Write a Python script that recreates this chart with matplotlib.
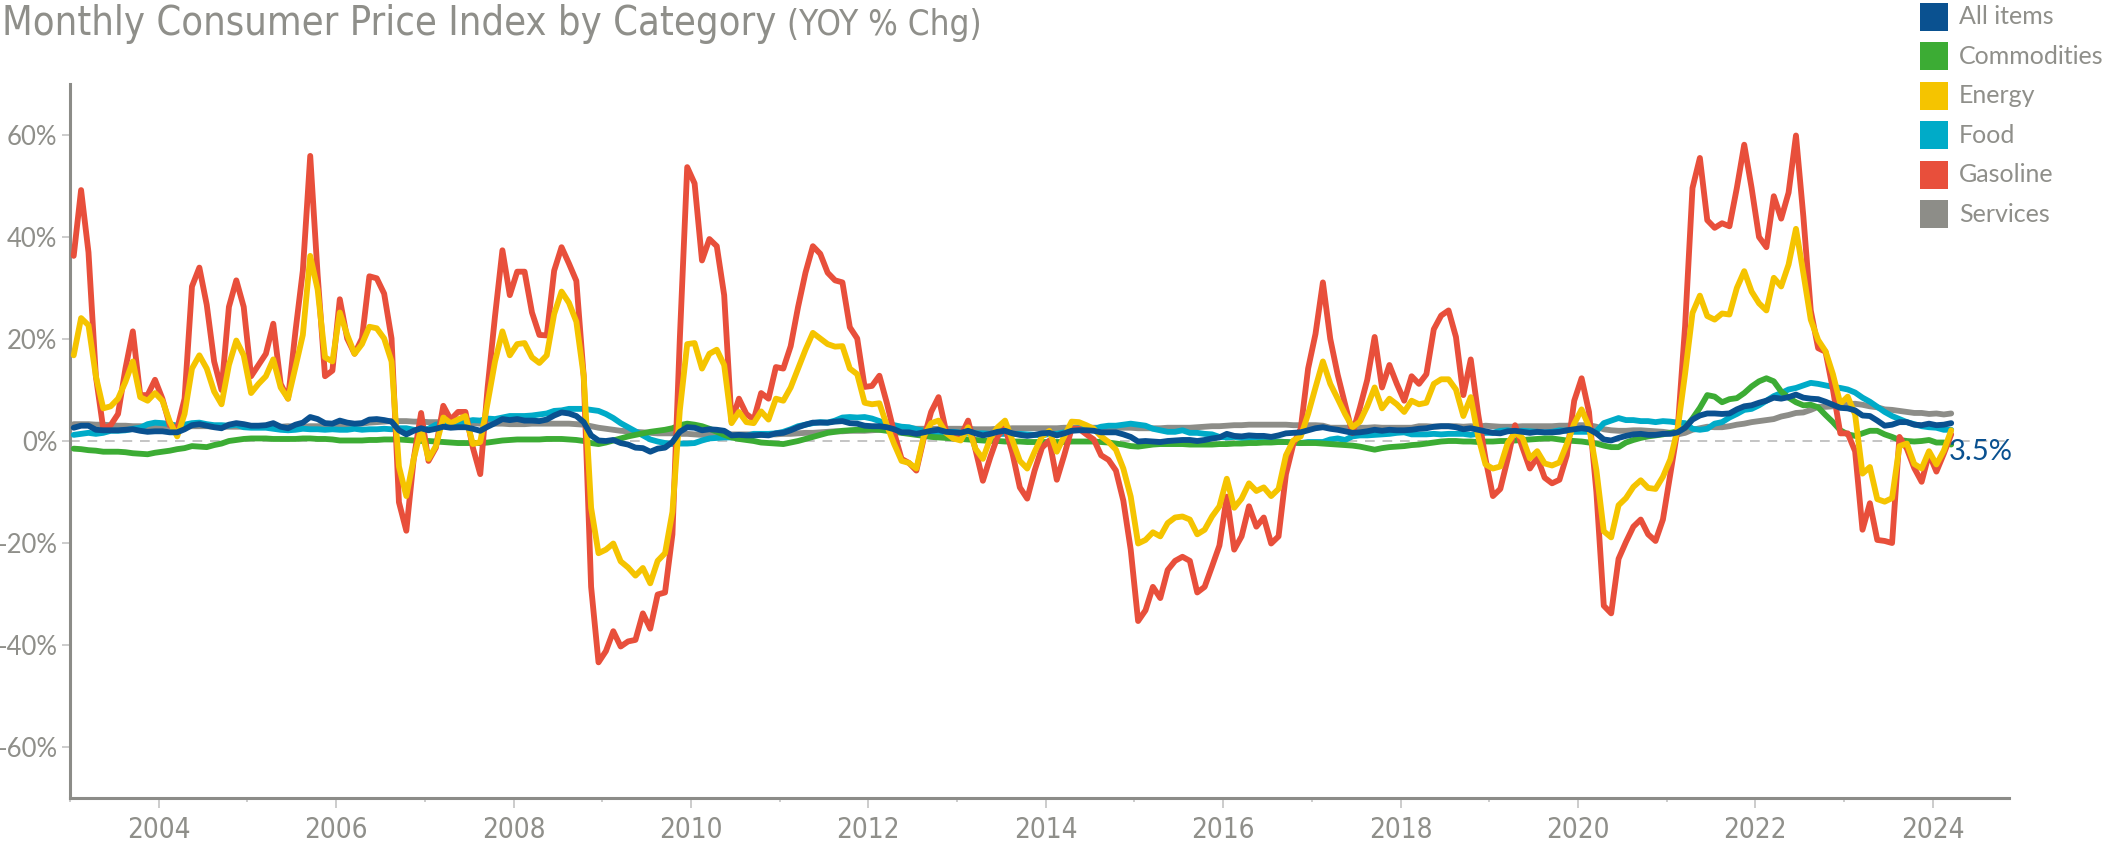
import matplotlib
matplotlib.use("Agg")
import matplotlib.pyplot as plt
import numpy as np
from matplotlib.patches import Rectangle

# ---------------- data (YoY % change, monthly, Jan 2003 .. Mar 2024) ----------------
start_year = 2003

all_items = [
    2.6, 3.0, 3.0, 2.2, 2.1, 2.1, 2.1, 2.2, 2.3, 2.0, 1.8, 1.9,
    1.9, 1.7, 1.7, 2.3, 3.1, 3.3, 3.0, 2.7, 2.5, 3.2, 3.5, 3.3,
    3.0, 3.0, 3.1, 3.5, 2.8, 2.5, 3.2, 3.6, 4.7, 4.3, 3.5, 3.4,
    4.0, 3.6, 3.4, 3.5, 4.2, 4.3, 4.1, 3.8, 2.1, 1.3, 2.0, 2.5,
    2.1, 2.4, 2.8, 2.6, 2.7, 2.7, 2.4, 2.0, 2.8, 3.5, 4.3, 4.1,
    4.3, 4.0, 4.0, 3.9, 4.2, 5.0, 5.6, 5.4, 4.9, 3.7, 1.1, 0.1,
    0.0, 0.2, -0.4, -0.7, -1.3, -1.4, -2.1, -1.5, -1.3, -0.2, 1.8, 2.7,
    2.6, 2.1, 2.3, 2.2, 2.0, 1.1, 1.2, 1.1, 1.1, 1.2, 1.1, 1.5,
    1.6, 2.1, 2.7, 3.2, 3.6, 3.6, 3.6, 3.8, 3.9, 3.5, 3.4, 3.0,
    2.9, 2.9, 2.7, 2.3, 1.7, 1.7, 1.4, 1.7, 2.0, 2.2, 1.8, 1.7,
    1.6, 2.0, 1.5, 1.1, 1.4, 1.8, 2.0, 1.5, 1.2, 1.0, 1.2, 1.5,
    1.6, 1.1, 1.5, 2.0, 2.1, 2.1, 2.0, 1.7, 1.7, 1.7, 1.3, 0.8,
    -0.1, 0.0, -0.1, -0.2, 0.0, 0.1, 0.2, 0.2, 0.0, 0.2, 0.5, 0.7,
    1.4, 1.0, 0.9, 1.1, 1.0, 1.0, 0.8, 1.1, 1.5, 1.6, 1.7, 2.1,
    2.5, 2.7, 2.4, 2.2, 1.9, 1.6, 1.7, 1.9, 2.2, 2.0, 2.2, 2.1,
    2.1, 2.2, 2.4, 2.5, 2.8, 2.9, 2.9, 2.7, 2.3, 2.5, 2.2, 1.9,
    1.6, 1.5, 1.9, 2.0, 1.8, 1.6, 1.8, 1.7, 1.7, 1.8, 2.1, 2.3,
    2.5, 2.3, 1.5, 0.3, 0.1, 0.6, 1.0, 1.3, 1.4, 1.2, 1.2, 1.4,
    1.4, 1.7, 2.6, 4.2, 5.0, 5.4, 5.4, 5.3, 5.4, 6.2, 6.8, 7.0,
    7.5, 7.9, 8.5, 8.3, 8.6, 9.1, 8.5, 8.3, 8.2, 7.7, 7.1, 6.5,
    6.4, 6.0, 5.0, 4.9, 4.0, 3.0, 3.2, 3.7, 3.7, 3.2, 3.1, 3.4,
    3.1, 3.2, 3.5,
]

commodities = [
    -1.5, -1.6, -1.8, -1.9, -2.1, -2.1, -2.1, -2.2, -2.4, -2.5, -2.6, -2.3,
    -2.1, -1.9, -1.6, -1.4, -1.0, -1.1, -1.2, -0.8, -0.5, 0.0, 0.2, 0.4,
    0.5, 0.5, 0.5, 0.4, 0.4, 0.4, 0.4, 0.5, 0.5, 0.4, 0.4, 0.3,
    0.1, 0.1, 0.1, 0.1, 0.2, 0.2, 0.3, 0.3, 0.3, 0.2, 0.1, 0.0,
    0.0, -0.1, -0.2, -0.3, -0.4, -0.4, -0.4, -0.4, -0.3, -0.1, 0.1, 0.2,
    0.3, 0.3, 0.3, 0.3, 0.4, 0.4, 0.4, 0.3, 0.2, 0.0, -0.4, -0.6,
    -0.3, 0.1, 0.5, 0.9, 1.2, 1.5, 1.8, 2.0, 2.2, 2.5, 3.1, 3.4,
    3.2, 2.9, 2.4, 1.8, 1.2, 0.7, 0.4, 0.2, 0.0, -0.3, -0.4, -0.5,
    -0.6, -0.3, 0.0, 0.4, 0.8, 1.2, 1.6, 1.8, 2.0, 2.1, 2.2, 2.2,
    2.3, 2.2, 2.0, 1.8, 1.6, 1.4, 1.2, 1.0, 0.8, 0.7, 0.6, 0.5,
    0.4, 0.3, 0.2, 0.1, 0.0, 0.0, -0.1, -0.1, -0.1, -0.2, -0.2, -0.2,
    -0.2, -0.2, -0.2, -0.1, -0.1, -0.1, -0.1, -0.2, -0.3, -0.5, -0.7, -1.0,
    -1.1, -0.9, -0.7, -0.6, -0.6, -0.6, -0.6, -0.7, -0.7, -0.7, -0.7, -0.6,
    -0.6, -0.5, -0.5, -0.4, -0.4, -0.3, -0.3, -0.2, -0.2, -0.3, -0.4, -0.4,
    -0.4, -0.5, -0.6, -0.7, -0.8, -0.9, -1.1, -1.4, -1.7, -1.4, -1.2, -1.1,
    -1.0, -0.8, -0.7, -0.5, -0.3, -0.1, 0.0, 0.0, -0.1, -0.1, -0.2, -0.1,
    -0.1, 0.0, 0.0, 0.1, 0.2, 0.3, 0.4, 0.5, 0.5, 0.3, 0.1, 0.0,
    -0.1, -0.3, -0.5, -0.9, -1.2, -1.2, -0.3, 0.2, 0.6, 0.9, 1.1, 1.3,
    1.6, 1.9, 2.6, 4.4, 6.5, 9.0, 8.7, 7.6, 8.2, 8.4, 9.4, 10.7,
    11.7, 12.3, 11.7, 9.7, 8.5, 7.6, 7.0, 7.1, 6.6, 5.1, 3.7, 2.1,
    1.3, 1.0, 1.5, 2.0, 2.0, 1.3, 0.8, 0.2, 0.0, -0.1, 0.0, 0.2,
    -0.3, -0.3, -0.7,
]

energy = [
    16.8, 24.1, 22.7, 12.7, 6.4, 6.8, 8.3, 11.6, 15.6, 8.6, 7.9, 9.4,
    7.9, 3.8, 0.9, 5.3, 14.2, 16.8, 14.2, 9.7, 7.2, 14.9, 19.7, 16.8,
    9.4, 11.2, 12.7, 16.0, 10.5, 8.3, 14.5, 20.8, 36.3, 29.7, 16.4, 15.6,
    25.2, 20.8, 17.1, 19.0, 22.4, 22.1, 20.1, 15.6, -5.0, -10.8, -3.5, 2.4,
    -3.5, -1.0, 4.6, 3.5, 4.2, 4.9, -0.6, -0.2, 7.5, 15.6, 21.5, 16.8,
    19.0, 19.2, 16.4, 15.3, 16.8, 24.9, 29.3, 27.1, 23.4, 12.7, -13.1, -22.0,
    -21.3, -20.1, -23.6, -24.8, -26.4, -24.9, -27.9, -23.5, -22.0, -13.9, 6.0, 19.0,
    19.2, 14.2, 17.1, 17.9, 14.9, 3.5, 5.7, 3.7, 3.5, 5.8, 4.2, 8.3,
    7.9, 10.5, 14.2, 17.9, 21.2, 20.1, 19.0, 18.5, 18.6, 14.2, 13.1, 7.5,
    7.2, 7.4, 3.1, -0.6, -3.9, -4.3, -5.4, 0.9, 3.5, 4.0, 1.6, 0.5,
    0.1, 2.7, -1.5, -3.5, 0.5, 2.7, 4.0, 0.1, -3.9, -5.4, -2.1, 0.9,
    2.0, -2.1, 0.9, 3.8, 3.7, 3.1, 2.4, 0.9, -0.2, -1.7, -5.4, -10.9,
    -20.1, -19.4, -17.9, -18.7, -16.1, -15.0, -14.8, -15.4, -18.3, -17.4, -14.8, -12.8,
    -7.4, -13.1, -11.3, -8.3, -9.8, -9.1, -10.8, -9.4, -2.8, 0.1, 0.9, 5.3,
    10.5, 15.6, 11.2, 8.3, 5.3, 2.7, 3.8, 6.8, 10.5, 6.4, 8.3, 7.2,
    5.7, 7.9, 7.2, 7.5, 11.2, 12.1, 12.1, 10.1, 4.9, 8.6, 0.9, -4.6,
    -5.4, -5.0, -0.4, 1.7, 0.6, -3.4, -2.0, -4.4, -4.8, -4.2, -0.6, 3.4,
    6.2, 2.8, -5.7, -17.7, -18.9, -12.6, -11.2, -9.0, -7.7, -9.2, -9.4, -7.0,
    -3.6, 2.4, 13.2, 25.1, 28.5, 24.5, 23.8, 25.0, 24.8, 30.0, 33.3, 29.3,
    27.0, 25.6, 32.0, 30.3, 34.6, 41.6, 32.9, 23.8, 19.8, 17.6, 13.1, 7.3,
    8.7, 5.2, -6.4, -5.1, -11.4, -11.9, -11.2, -1.0, -0.5, -4.5, -5.4, -2.0,
    -4.6, -1.9, 2.1,
]

food = [
    1.2, 1.4, 1.6, 1.4, 1.6, 2.0, 2.0, 2.1, 2.4, 2.6, 3.3, 3.6,
    3.5, 3.3, 3.0, 3.2, 3.5, 3.6, 3.3, 3.1, 3.1, 3.0, 3.2, 2.7,
    2.6, 2.6, 2.6, 2.4, 2.2, 2.1, 2.2, 2.4, 2.3, 2.3, 2.2, 2.3,
    2.2, 2.2, 2.4, 2.2, 2.3, 2.3, 2.4, 2.3, 2.5, 2.5, 2.2, 2.1,
    2.4, 3.2, 3.5, 3.6, 3.6, 3.8, 4.1, 4.0, 4.4, 4.3, 4.6, 4.9,
    4.9, 4.9, 5.0, 5.2, 5.4, 5.9, 6.0, 6.3, 6.3, 6.3, 6.1, 5.9,
    5.3, 4.5, 3.5, 2.7, 1.9, 1.1, 0.3, -0.1, -0.4, -0.6, -0.5, -0.5,
    -0.4, 0.1, 0.5, 0.6, 0.7, 0.7, 0.9, 1.0, 1.4, 1.4, 1.4, 1.5,
    1.8, 2.3, 2.9, 3.2, 3.5, 3.7, 3.6, 4.0, 4.6, 4.7, 4.6, 4.7,
    4.4, 3.9, 3.3, 3.1, 2.8, 2.7, 2.3, 2.0, 1.6, 1.7, 1.8, 1.8,
    1.6, 1.6, 1.5, 1.5, 1.4, 1.4, 1.4, 1.4, 1.4, 1.3, 1.2, 1.1,
    1.4, 1.4, 1.7, 2.3, 2.5, 2.5, 2.3, 2.8, 3.0, 3.0, 3.2, 3.4,
    3.2, 3.0, 2.4, 2.1, 1.8, 1.8, 2.1, 1.6, 1.6, 1.4, 1.3, 0.8,
    0.7, 0.8, 0.6, 0.6, 0.7, 0.3, 0.0, -0.1, -0.2, -0.3, -0.4, -0.2,
    -0.2, -0.2, 0.3, 0.5, 0.2, 0.9, 1.1, 1.1, 1.2, 1.3, 1.4, 1.6,
    1.7, 1.3, 1.3, 1.3, 1.4, 1.3, 1.4, 1.4, 1.4, 1.2, 1.4, 1.6,
    1.6, 2.0, 2.1, 1.8, 2.0, 1.9, 1.8, 1.7, 1.8, 2.1, 2.0, 1.8,
    1.8, 1.8, 1.9, 3.5, 4.0, 4.5, 4.1, 4.1, 3.9, 3.9, 3.7, 3.9,
    3.8, 3.6, 3.5, 2.4, 2.2, 2.4, 3.4, 3.7, 4.6, 5.3, 6.1, 6.3,
    7.0, 7.9, 8.8, 9.4, 10.1, 10.4, 10.9, 11.4, 11.2, 10.9, 10.6, 10.4,
    10.1, 9.5, 8.5, 7.7, 6.7, 5.7, 4.9, 4.3, 3.7, 3.3, 2.9, 2.7,
    2.6, 2.2, 2.2,
]

gasoline = [
    36.3, 49.2, 37.0, 12.7, 2.4, 3.1, 5.3, 14.2, 21.5, 9.0, 9.0, 12.0,
    8.3, 3.1, 2.4, 8.3, 30.3, 34.0, 26.7, 15.6, 10.0, 26.3, 31.5, 26.3,
    12.7, 14.9, 17.1, 23.0, 11.2, 8.3, 21.5, 33.4, 55.9, 32.6, 12.7, 13.8,
    27.8, 20.1, 17.1, 20.1, 32.3, 31.9, 28.9, 20.1, -12.0, -17.6, -3.5, 5.5,
    -3.9, -1.3, 6.9, 4.2, 5.7, 5.7, -1.3, -6.5, 10.5, 24.5, 37.4, 28.6,
    33.2, 33.2, 25.2, 20.8, 20.7, 33.4, 38.0, 34.8, 31.4, 12.7, -28.6, -43.4,
    -41.2, -37.3, -40.3, -39.3, -39.0, -33.8, -36.8, -30.1, -29.7, -18.3, 20.0, 53.7,
    50.5, 35.4, 39.6, 38.2, 28.6, 3.8, 8.3, 5.3, 4.2, 9.4, 8.3, 14.5,
    14.2, 18.6, 26.3, 33.0, 38.2, 36.7, 33.0, 31.5, 31.1, 22.3, 20.1, 10.6,
    10.8, 12.8, 7.5, 1.6, -3.5, -4.3, -5.8, 0.5, 5.7, 8.6, 2.0, 0.5,
    0.9, 4.0, -1.7, -7.8, -3.2, 0.9, 2.7, -2.4, -9.1, -11.3, -5.8, -1.3,
    0.1, -7.6, -2.8, 2.4, 2.4, 1.3, 0.3, -2.8, -3.7, -5.8, -11.7, -21.3,
    -35.3, -33.2, -28.6, -30.8, -25.3, -23.5, -22.7, -23.5, -29.7, -28.6, -24.6, -20.5,
    -10.9, -21.3, -18.7, -12.8, -16.8, -15.0, -20.1, -18.7, -6.5, -0.6, 2.4, 14.2,
    21.0, 31.1, 20.0, 13.0, 7.2, 1.5, 6.5, 12.0, 20.4, 10.5, 14.9, 11.2,
    7.9, 12.7, 11.2, 13.1, 21.9, 24.6, 25.6, 20.4, 9.0, 16.0, 5.3, -3.5,
    -10.8, -9.4, -3.5, 3.1, -1.3, -5.4, -3.2, -7.2, -8.3, -7.6, -2.8, 7.9,
    12.3, 5.7, -10.0, -32.3, -33.8, -23.1, -19.8, -16.8, -15.4, -18.3, -19.6, -15.4,
    -6.5, 2.4, 22.5, 49.6, 55.5, 43.3, 41.8, 42.7, 42.1, 49.6, 58.1, 49.6,
    40.0, 38.0, 48.0, 43.6, 48.7, 59.9, 44.0, 25.6, 18.2, 17.5, 10.1, 1.5,
    1.5, -2.0, -17.4, -12.2, -19.4, -19.6, -20.0, 0.8, -1.5, -5.3, -8.0, -2.5,
    -6.0, -2.5, 1.3,
]

services = [
    3.3, 3.3, 3.3, 3.2, 3.2, 3.1, 3.0, 3.0, 2.9, 2.9, 2.8, 2.8,
    2.8, 2.8, 2.8, 2.8, 2.9, 2.9, 2.9, 2.8, 2.8, 2.8, 2.8, 2.8,
    2.8, 2.8, 2.9, 2.8, 2.8, 2.9, 2.8, 2.8, 2.9, 2.9, 2.9, 3.0,
    3.1, 3.2, 3.3, 3.4, 3.6, 3.7, 3.8, 3.9, 3.9, 3.9, 3.8, 3.8,
    3.7, 3.7, 3.7, 3.7, 3.6, 3.6, 3.5, 3.4, 3.4, 3.4, 3.4, 3.3,
    3.3, 3.3, 3.4, 3.4, 3.4, 3.4, 3.4, 3.4, 3.3, 3.2, 2.9, 2.6,
    2.4, 2.2, 2.0, 1.9, 1.8, 1.7, 1.6, 1.5, 1.5, 1.5, 1.4, 1.4,
    1.3, 1.2, 1.2, 1.2, 1.2, 1.3, 1.3, 1.3, 1.3, 1.2, 1.3, 1.3,
    1.4, 1.4, 1.5, 1.6, 1.6, 1.7, 1.8, 1.9, 1.9, 2.0, 2.0, 2.0,
    2.1, 2.2, 2.3, 2.4, 2.4, 2.5, 2.4, 2.4, 2.4, 2.4, 2.4, 2.4,
    2.4, 2.4, 2.3, 2.3, 2.3, 2.4, 2.4, 2.5, 2.5, 2.5, 2.5, 2.5,
    2.5, 2.5, 2.6, 2.6, 2.7, 2.6, 2.6, 2.6, 2.6, 2.6, 2.6, 2.6,
    2.5, 2.5, 2.5, 2.5, 2.6, 2.6, 2.6, 2.6, 2.7, 2.8, 2.9, 2.9,
    3.0, 3.1, 3.1, 3.2, 3.2, 3.2, 3.2, 3.2, 3.2, 3.1, 3.1, 3.1,
    3.1, 3.0, 2.6, 2.6, 2.6, 2.6, 2.6, 2.6, 2.7, 2.6, 2.6, 2.6,
    2.6, 2.6, 2.9, 2.9, 2.8, 2.9, 2.9, 2.9, 2.8, 2.9, 2.8, 3.0,
    2.9, 2.8, 2.8, 2.8, 2.9, 2.9, 2.9, 2.9, 2.9, 3.0, 3.0, 3.1,
    3.1, 3.1, 2.8, 2.3, 2.1, 2.0, 2.0, 2.1, 2.1, 2.0, 1.9, 1.8,
    1.6, 1.3, 1.6, 2.2, 2.5, 2.8, 2.7, 2.7, 2.9, 3.2, 3.4, 3.7,
    3.9, 4.1, 4.3, 4.8, 5.1, 5.5, 5.6, 6.1, 6.7, 6.7, 6.8, 7.0,
    7.2, 7.3, 7.1, 6.8, 6.6, 6.2, 6.1, 5.9, 5.7, 5.5, 5.5, 5.3,
    5.4, 5.2, 5.4,
]

series_names = ["All items", "Commodities", "Energy", "Food", "Gasoline", "Services"]
series_values = [all_items, commodities, energy, food, gasoline, services]
series_colors = ["#0a5190", "#3cac34", "#f5c400", "#00abc8", "#e84f3b", "#8d8d88"]
draw_order = ["Services", "Food", "Commodities", "Gasoline", "Energy", "All items"]

y_ticks = [-60, -40, -20, 0, 20, 40, 60]
x_major_ticks = list(range(2004, 2025, 2))
x_minor_ticks = list(range(2003, 2025, 2))

title_main = "Monthly Consumer Price Index by Category"
title_sub = "(YOY % Chg)"

# ---------------- styling ----------------
W, H = 2118, 846
GREY_TXT = "#8f8f8a"
NARROW = ["Liberation Sans Narrow", "DejaVu Sans"]
WIDE = ["Lato", "DejaVu Sans"]

plt.rcParams["axes.unicode_minus"] = False

fig = plt.figure(figsize=(W / 100, H / 100), dpi=100)
ax = fig.add_axes([70 / W, 1 - 798 / H, (2009 - 70) / W, (798 - 84) / H])

n = len(all_items)
x = start_year + (np.arange(n) + 0.5) / 12.0

ax.axhline(0, color="#c4c4c4", lw=1.4, ls=(0, (5, 4)), zorder=1)

lookup = dict(zip(series_names, zip(series_values, series_colors)))
for k, name in enumerate(draw_order):
    vals, col = lookup[name]
    ax.plot(x, vals, color=col, lw=4.2, solid_joinstyle="round",
            solid_capstyle="round", zorder=2 + k)

ax.set_xlim(2003.0, 2024.86)
ax.set_ylim(-70, 70)

for s in ["top", "right"]:
    ax.spines[s].set_visible(False)
for s in ["left", "bottom"]:
    ax.spines[s].set_color("#8c8c88")
    ax.spines[s].set_linewidth(2.2)

ax.set_yticks(y_ticks)
ax.set_yticklabels([f"{v}%" for v in y_ticks])
ax.set_xticks(x_major_ticks)
ax.set_xticklabels([str(v) for v in x_major_ticks])
ax.set_xticks(x_minor_ticks, minor=True)

ax.tick_params(axis="y", length=6, width=1.3, color="#c8c8c8", pad=3,
               labelsize=18.5, labelcolor=GREY_TXT)
ax.tick_params(axis="x", which="major", length=7, width=1.3, color="#c8c8c8",
               pad=6, labelsize=20, labelcolor=GREY_TXT)
ax.tick_params(axis="x", which="minor", length=3, width=1.3, color="#c8c8c8")
for lab in ax.get_yticklabels():
    lab.set_family(WIDE)
for lab in ax.get_xticklabels():
    lab.set_family(NARROW)
    lab.set_fontstretch("condensed")

# end label for All items
ax.annotate(f"{all_items[-1]:.1f}%", xy=(x[-1], all_items[-1]),
            xytext=(-2, -29), textcoords="offset pixels",
            ha="left", va="center", color=series_colors[0],
            fontsize=21, family=WIDE, zorder=10)

# title
t1 = fig.text(2 / W, 1 - 35 / H, title_main, fontsize=28.5, color=GREY_TXT,
              family=NARROW, fontstretch="condensed", va="baseline", ha="left")
fig.canvas.draw()
bb = t1.get_window_extent(renderer=fig.canvas.get_renderer())
fig.text((bb.x1 + 11) / W, 1 - 35 / H, title_sub, fontsize=25, color=GREY_TXT,
         family=NARROW, fontstretch="condensed", va="baseline", ha="left")

# legend (manual)
for i, (name, col) in enumerate(zip(series_names, series_colors)):
    yc = 17 + i * 39.4
    fig.add_artist(Rectangle(((1920) / W, 1 - (yc + 14) / H), 28 / W, 28 / H,
                             transform=fig.transFigure, facecolor=col,
                             edgecolor="none"))
    fig.text(1959 / W, 1 - yc / H, name, fontsize=18, color=GREY_TXT,
             family=WIDE, va="center", ha="left")

fig.savefig("out.png", dpi=100)
